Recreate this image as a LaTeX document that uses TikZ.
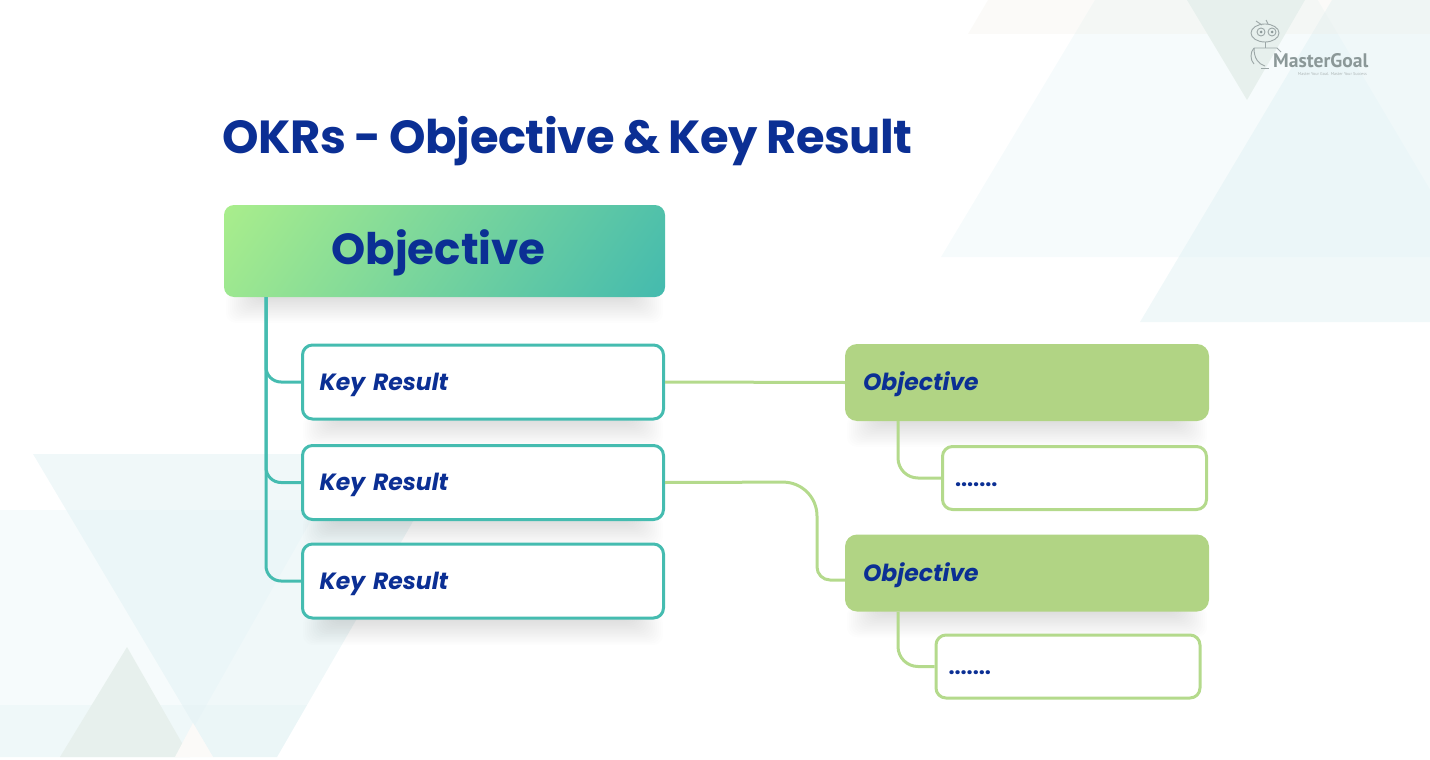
\documentclass[tikz,border=0pt]{standalone}
\usepackage{xcolor}
\usepackage{fontspec}
\setmainfont{Poppins}
\newfontfamily\logofont{PT Sans}
\newfontfamily\titlefont{Poppins}[LetterSpace=-1,WordSpace=0.9]
\usetikzlibrary{positioning,calc,backgrounds}
\definecolor{navyblue}{HTML}{0B2F94}
\definecolor{tealline}{HTML}{45BCB0}
\definecolor{greenbox}{HTML}{B1D484}
\definecolor{greenline}{HTML}{B4DA8C}
\definecolor{bgblue}{HTML}{DFF0F3}
\definecolor{bgwarm}{HTML}{EFEDE4}
\definecolor{bggrey}{HTML}{E7F0ED}
\definecolor{logogrey}{HTML}{8B9898}
\definecolor{gradstart}{HTML}{AEF08A}
\definecolor{gradend}{HTML}{3FB8B0}
\pgfdeclareverticalshading{objgrad}{100bp}{color(0bp)=(gradstart); color(12bp)=(gradstart); color(88bp)=(gradend); color(100bp)=(gradend)}
\newcommand{\softshadow}[1]{
  \foreach \r in {1,...,16}
    \fill[black,opacity=.0075,rounded corners=10pt]
      ($(#1.south west)+(34-2*\r,-6)$) rectangle ($(#1.south east)+(-34+2*\r,1.6*\r)$);
}

\begin{document}
\begin{tikzpicture}[x=1pt,y=-1pt,on grid,line join=round]
        \tikzstyle{mainbox}=[rounded corners=10pt,minimum width=441pt,minimum height=92pt,shade,shading=objgrad,
          shading angle=235,text height=30pt,text depth=4pt,font=\bfseries\fontsize{43.5}{50}\selectfont,text=navyblue]
        \tikzstyle{keybox}=[draw=tealline,line width=3pt,rounded corners=10pt,fill=white,
          minimum width=361pt,minimum height=74pt,text width=327pt,align=left,text=navyblue,
          text height=19pt,text depth=3pt,font=\bfseries\itshape\fontsize{23.5}{28}\selectfont]
        \tikzstyle{objbox}=[fill=greenbox,rounded corners=12pt,minimum width=364pt,minimum height=77pt,
          text width=328pt,align=left,text=navyblue,text height=19pt,text depth=3pt,
          font=\bfseries\itshape\fontsize{23.5}{28}\selectfont]
        \tikzstyle{subbox}=[draw=greenline,line width=3pt,rounded corners=10pt,fill=white,
          minimum width=264pt,minimum height=63pt,text width=239pt,align=left,text=navyblue,
          text height=19pt,text depth=3pt,font=\bfseries\fontsize{21.5}{24}\selectfont]
        \tikzstyle{tealpath}=[draw=tealline,line width=3pt]
        \tikzstyle{greenpath}=[draw=greenline,line width=3pt]
        \tikzstyle{trione}=[fill=bgblue,opacity=.28]
        \tikzstyle{tritwo}=[fill=bgblue,opacity=.47]
        \tikzstyle{triband}=[fill=bgwarm,opacity=.25]
        \useasboundingbox (0,0) rectangle (1430,760);

        \node[anchor=base west,text=navyblue,font=\titlefont\bfseries\fontsize{46.4}{60}\selectfont] (title) at (219,153) {OKRs - Objective \& Key Result};

        \node[mainbox] (objmain) at (444.5,251) {\hspace*{-12pt}Objective};
        \node[keybox] (kr1) at (483,382) {Key Result};
        \node[keybox] (kr2) [below=100.5pt of kr1] {Key Result};
        \node[keybox] (kr3) [below=98.5pt of kr2] {Key Result};
        \node[objbox] (ob1) at (1027,382.5) {Objective};
        \node[subbox] (sub1) at (1074.5,478) {.......};
        \node[objbox] (ob2) [below=190.5pt of ob1] {Objective};
        \node[subbox] (sub2) [below=188.5pt of sub1,xshift=-6.5pt] {.......};

        \coordinate (trunk) at (266,297);
        \coordinate (bendtop) at (817,482);
        \coordinate (bendlow) at (817,580);
        \coordinate (ob2in) at (845,580);
        \coordinate (ob1out) at (898,421);
        \coordinate (ob2out) at (898,612);

        \draw[tealpath,rounded corners=15pt] (trunk) |- (kr1.west);
        \draw[tealpath,rounded corners=15pt] (trunk) |- (kr2.west);
        \draw[tealpath,rounded corners=15pt] (trunk) |- (kr3.west);
        \draw[greenpath] (kr1.east) -- (ob1.west);
        \draw[greenpath,rounded corners=34pt] (kr2.east) -- (bendtop) [rounded corners=13pt] -- (bendlow) -- (ob2in);
        \draw[greenpath,rounded corners=20pt] (ob1out) |- (sub1.west);
        \draw[greenpath,rounded corners=20pt] (ob2out) |- (sub2.west);

        % logo
        \node[anchor=base west,inner sep=0pt,text=logogrey,font=\logofont\bfseries\fontsize{19.6}{22}\selectfont] (logo) at (1273,67.5) {MasterGoal};
        \node[anchor=base east,inner sep=0pt,text=logogrey!70,font=\logofont\fontsize{4.2}{5}\selectfont] (slogan) at (1367,75) {Master Your Goal. Master Your Success};
        \begin{scope}[draw=logogrey!85,line width=.9pt]
          \draw (1265,33) ellipse (14pt and 9pt);
          \draw (1261,32) circle (4pt) (1272,32) circle (4pt);
          \fill[logogrey] (1261,32) circle (1.5pt) (1272,32) circle (1.5pt);
          \draw (1262,25) -- (1256,21) (1268,24) -- (1266,20);
          \draw (1265,42) -- (1265,48);
          \draw (1254,48) -- (1277,48) (1254,48) .. controls (1254,58) and (1258,64) .. (1265,66) (1277,48) -- (1281,52);
          \draw (1254,48) .. controls (1250,52) and (1250,60) .. (1254,64);
          \draw (1261,68) -- (1269,68);
        \end{scope}

        % soft shadows and background triangles
        \begin{scope}[on background layer]
          \clip (0,0) rectangle (1430,760);
          \fill[trione] (941,257) -- (1207,-187) -- (1470,257) -- cycle;
          \fill[tritwo] (1140,322) -- (1332,0) -- (1430,0) -- (1430,322) -- cycle;
          \fill[triband] (968,34) -- (988,0) -- (1430,0) -- (1430,34) -- cycle;
          \fill[bggrey] (1187,0) -- (1305,0) -- (1247,100) -- cycle;
          \fill[trione] (0,510) -- (317,510) -- (177,757) -- (0,757) -- cycle;
          \fill[tritwo] (33,454) -- (452,454) -- (277,757) -- (213,757) -- cycle;
          \fill[tritwo,opacity=.3] (0,705) -- (307,705) -- (277,757) -- (0,757) -- cycle;
          \fill[bggrey] (127,647) -- (190,757) -- (60,757) -- cycle;
          \fill[bgwarm!25] (193,723) -- (213,757) -- (175,757) -- cycle;
          \softshadow{objmain}
          \softshadow{kr1}
          \softshadow{kr2}
          \softshadow{kr3}
          \softshadow{ob1}
          \softshadow{ob2}
        \end{scope}
    \end{tikzpicture}
\end{document}
